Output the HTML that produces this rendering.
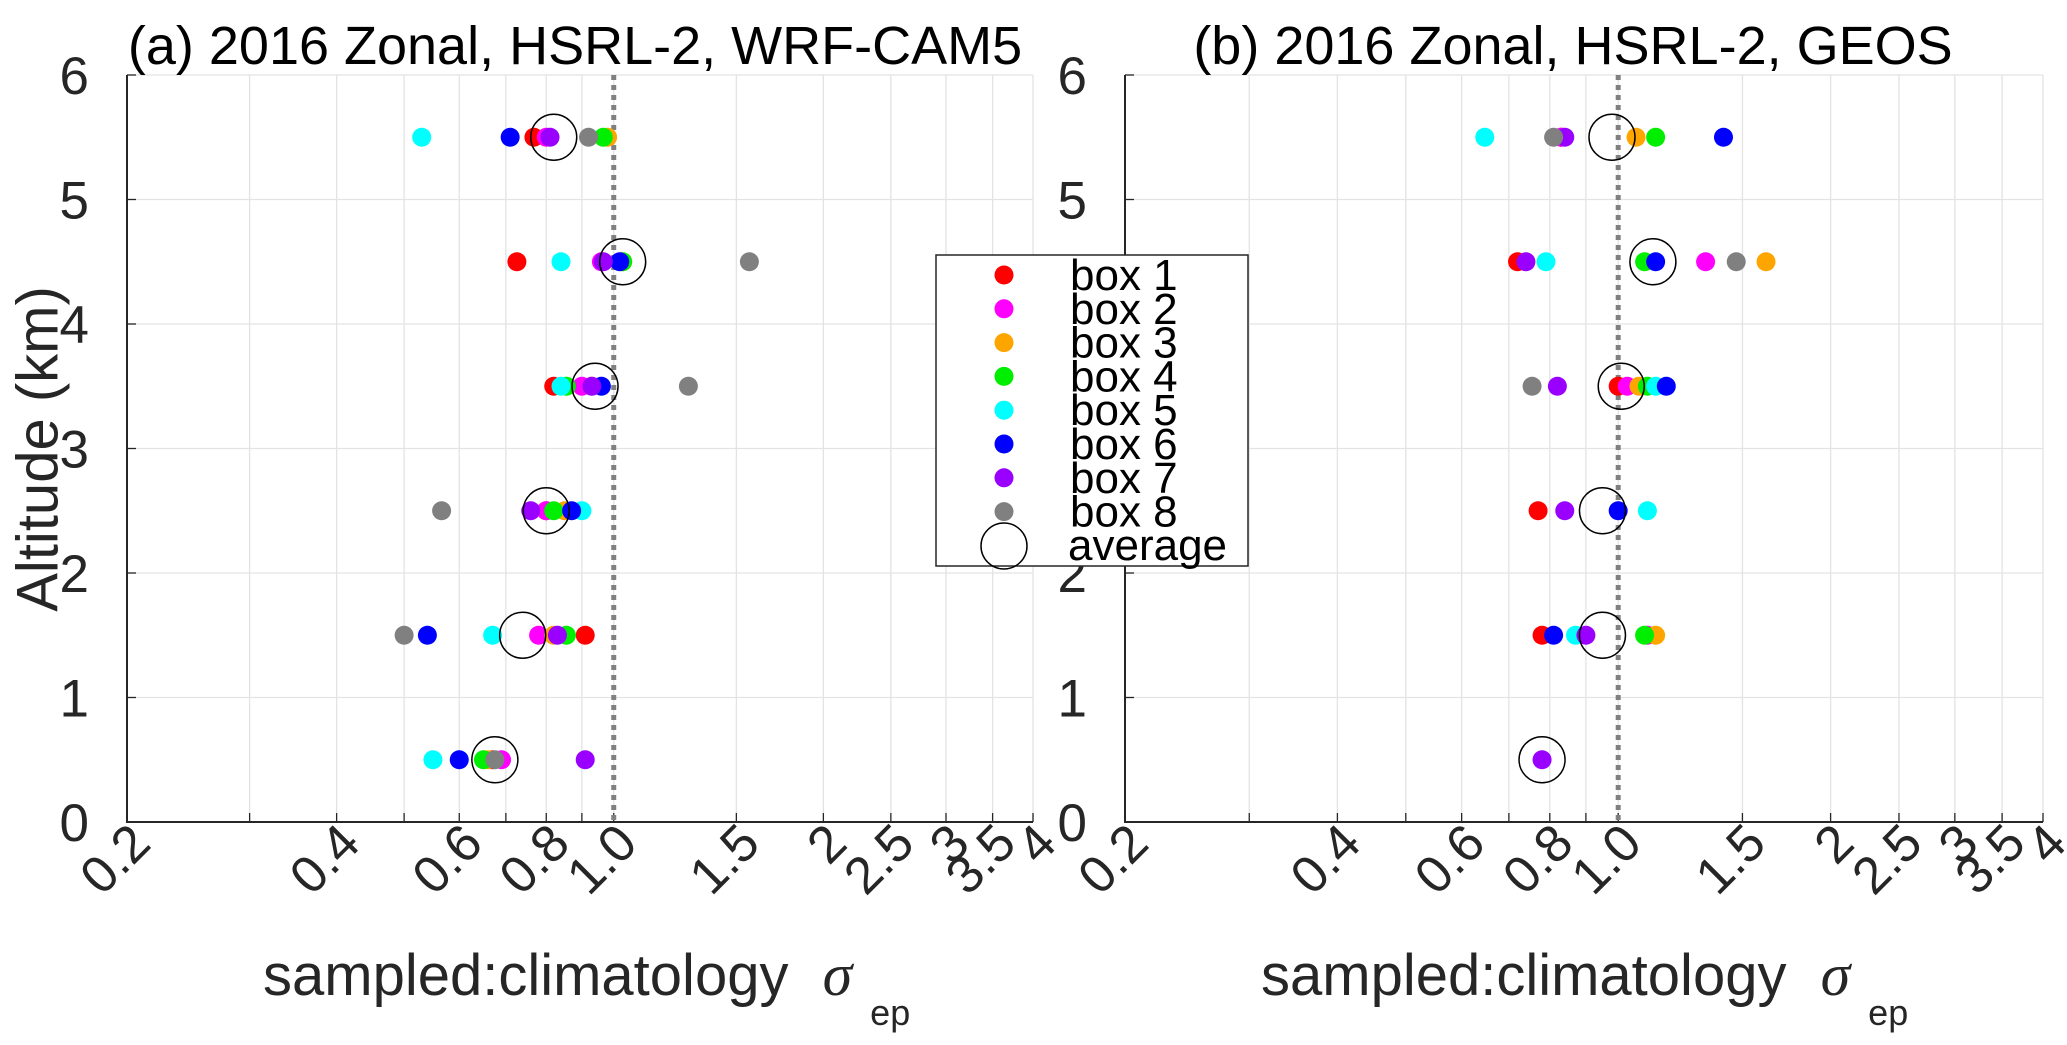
<!DOCTYPE html>
<html><head><meta charset="utf-8"><style>
html,body{margin:0;padding:0;background:#fff;}
svg{display:block;font-family:"Liberation Sans",Arial,sans-serif;}
</style></head><body>
<svg id="chart" width="2067" height="1045" viewBox="0 0 2067 1045" xmlns="http://www.w3.org/2000/svg"></svg>
<script>
const altitudes = [0.5, 1.5, 2.5, 3.5, 4.5, 5.5];
const boxNames = ["box 1","box 2","box 3","box 4","box 5","box 6","box 7","box 8"];
const boxColors = ["#ff0000","#ff00ff","#ffa500","#00ee00","#00ffff","#0000ff","#9900ff","#808080"];
const xTickVals = [0.2,0.4,0.6,0.8,1.0,1.5,2,2.5,3,3.5,4];
const xTickLabels = ["0.2","0.4","0.6","0.8","1.0","1.5","2","2.5","3","3.5","4"];
const xGridVals = [0.2,0.3,0.4,0.5,0.6,0.7,0.8,0.9,1.0,1.5,2,2.5,3,3.5,4];
const yTickVals = [0,1,2,3,4,5,6];
// panel a values: rows = altitudes, columns = boxes 1..8
const valsA_05 = [0.67,0.69,0.66,0.65,0.55,0.60,0.91,0.675];
const valsA_15 = [0.91,0.78,0.82,0.855,0.67,0.54,0.83,0.50];
const valsA_25 = [0.80,0.80,0.85,0.82,0.90,0.87,0.76,0.566];
const valsA_35 = [0.82,0.90,0.93,0.855,0.84,0.96,0.93,1.28];
const valsA_45 = [0.726,0.96,1.03,1.03,0.84,1.02,0.966,1.566];
const valsA_55 = [0.768,0.80,0.98,0.966,0.53,0.71,0.81,0.92];
const avgA = [0.675,0.74,0.80,0.94,1.03,0.82];
const valsB_05 = [null,null,null,null,null,null,0.78,null];
const valsB_15 = [0.78,1.10,1.13,1.09,0.87,0.81,0.90,null];
const valsB_25 = [0.77,null,null,null,1.10,1.00,0.84,null];
const valsB_35 = [1.00,1.03,1.07,1.10,1.13,1.17,0.82,0.755];
const valsB_45 = [0.72,1.33,1.62,1.09,0.79,1.13,0.74,1.47];
const valsB_55 = [0.83,0.83,1.06,1.13,0.647,1.41,0.84,0.81];
const avgB = [0.78,0.95,0.95,1.01,1.12,0.98];

const NS="http://www.w3.org/2000/svg";
const svg=document.getElementById('chart');
function mk(tag,attrs,parent){const e=document.createElementNS(NS,tag);for(const k in attrs)e.setAttribute(k,attrs[k]);(parent||svg).appendChild(e);return e;}

function panel(id,L,R,T,B,rows,avg,title,titleX){
  const g=mk('g',{});
  
  
  const xs=v=>L+(R-L)*Math.log10(v/0.2)/Math.log10(20);
  const ys=v=>B-(B-T)*v/6;
  xGridVals.forEach(v=>{const l=mk('line',{x1:xs(v),x2:xs(v),y1:T,y2:B,stroke:'#e3e3e3','stroke-width':1.3},g);
    
    mk('line',{x1:xs(v),x2:xs(v),y1:B,y2:B-9,stroke:'#262626','stroke-width':1.3},g);});
  yTickVals.forEach(v=>{const l=mk('line',{x1:L,x2:R,y1:ys(v),y2:ys(v),stroke:'#e3e3e3','stroke-width':1.3},g);
    
    mk('line',{x1:L,x2:L+9,y1:ys(v),y2:ys(v),stroke:'#262626','stroke-width':1.3},g);});
  const ax=mk('path',{d:`M${L},${T}V${B}H${R}`,fill:'none',stroke:'#262626','stroke-width':2},g);
  
  yTickVals.forEach(v=>{const t=mk('text',{x:L-38,y:ys(v)+19,'font-size':53,'text-anchor':'end',fill:'#262626'},g);t.textContent=v;
    });
  xTickVals.forEach((v,i)=>{const x=xs(v)+26,y=846;
    const t=mk('text',{x:x,y:y,'font-size':52,'text-anchor':'end',fill:'#262626',transform:`rotate(-45 ${x} ${y})`},g);
    t.textContent=xTickLabels[i];
    });
  const ref=mk('line',{x1:xs(1),x2:xs(1),y1:T,y2:B,stroke:'#808080','stroke-width':5,'stroke-dasharray':'5 5'},g);
  
  rows.forEach((row,ai)=>{row.forEach((v,bi)=>{if(v==null)return;
    const c=mk('circle',{cx:xs(v),cy:ys(altitudes[ai]),r:9.5,fill:boxColors[bi]},g);
    });
    const a=mk('circle',{cx:xs(avg[ai]),cy:ys(altitudes[ai]),r:23,fill:'none',stroke:'#000','stroke-width':1.5},g);
    });
  const tt=mk('text',{x:titleX,y:64,'font-size':54,'text-anchor':'middle',fill:'#000'},g);tt.textContent=title;
  
  const xl=mk('text',{x:L+136,y:995,'font-size':58,'text-anchor':'start',fill:'#262626'},g);
  
  xl.setAttribute('xml:space','preserve');
  xl.textContent='sampled:climatology ';
  const s=mk('tspan',{dx:18,'font-style':'italic','font-family':'"Liberation Serif",serif','font-size':60},xl);s.textContent='σ';
  const sub=mk('tspan',{dx:18,dy:30,'font-size':36},xl);sub.textContent='ep';
}
panel('panel-a',127,1033,75,822,[valsA_05,valsA_15,valsA_25,valsA_35,valsA_45,valsA_55],avgA,'(a) 2016 Zonal, HSRL-2, WRF-CAM5',575);
panel('panel-b',1125,2043,75,822,[valsB_05,valsB_15,valsB_25,valsB_35,valsB_45,valsB_55],avgB,'(b) 2016 Zonal, HSRL-2, GEOS',1573);

const yl=mk('text',{x:42,y:449,'font-size':58,'text-anchor':'middle',fill:'#262626',transform:'rotate(-90 42 449)','dominant-baseline':'middle'});
yl.textContent='Altitude (km)';


const lg=mk('g',{});

mk('rect',{x:936,y:255,width:312,height:311,fill:'#fff',stroke:'#262626','stroke-width':1.5},lg);
boxNames.forEach((n,i)=>{const y=275+i*33.8;
  const c=mk('circle',{cx:1004,cy:y,r:9.5,fill:boxColors[i]},lg);
  
  const t=mk('text',{x:1070,y:y+15,'font-size':44,fill:'#000'},lg);t.textContent=n;
  });
mk('circle',{cx:1004,cy:546,r:23,fill:'none',stroke:'#000','stroke-width':1.5},lg);
const at=mk('text',{x:1068,y:560,'font-size':44,fill:'#000'},lg);at.textContent='average';

</script>
</body></html>
